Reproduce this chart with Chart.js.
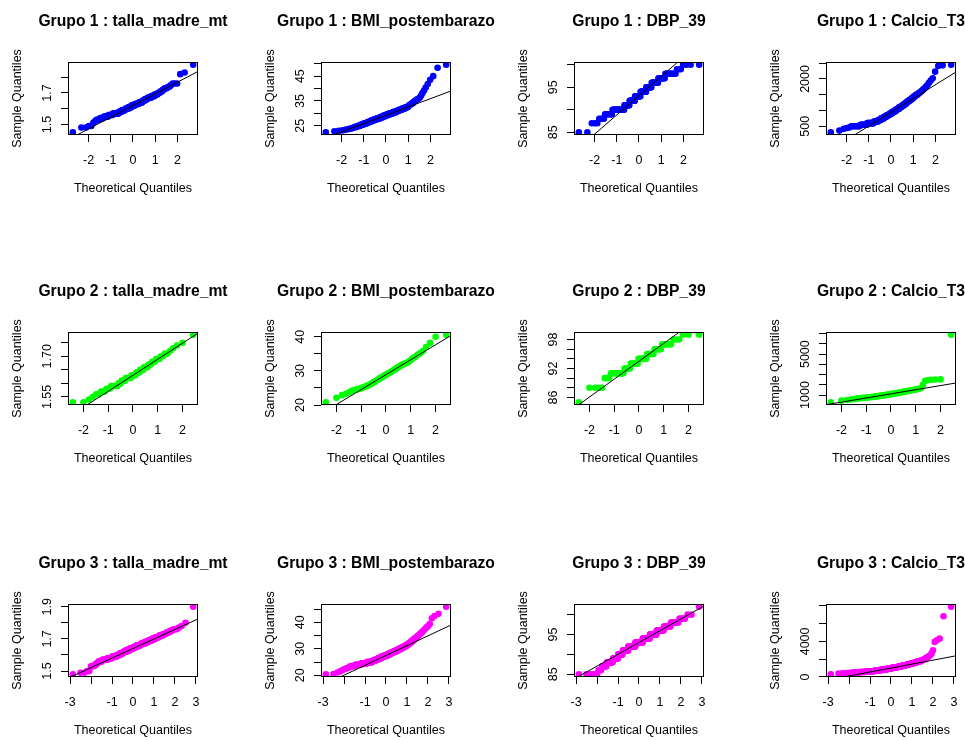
<!DOCTYPE html>
<html lang="es">
<head>
<meta charset="UTF-8">
<title>QQ plots por grupo</title>
<script src="https://cdn.jsdelivr.net/npm/chart.js"></script>
<style>
  body { margin: 0; background: #fff; width: 965px; height: 740px; overflow: hidden; position: relative; }
  canvas { position: absolute; }
</style>
</head>
<body>
<script>
// datos: [valor, repeticiones] o valor suelto (ordenados)
const grupos = ['Grupo 1', 'Grupo 2', 'Grupo 3']
const variables = ['talla_madre_mt', 'BMI_postembarazo', 'DBP_39', 'Calcio_T3']
const colores = ['#0000ff', '#00ff00', '#ff00ff']

const talla1 = [[1.45,1],[1.48,2],[1.49,2],[1.51,1],[1.52,1],[1.53,3],[1.54,4],[1.55,6],[1.56,7],[1.57,12],[1.58,7],[1.59,8],[1.60,9],[1.61,8],[1.62,9],[1.63,10],[1.64,9],[1.65,6],[1.66,6],[1.67,8],[1.68,6],[1.69,5],[1.70,3],[1.71,3],[1.72,2],[1.73,3],[1.74,2],[1.75,1],[1.76,3],[1.82,1],[1.83,1],[1.88,1]]
const bmi1 = [22.4,22.8,23.0,23.1,23.3,23.5,23.6,23.8,23.9,24.0,[24.3,2],[24.6,3],[25.0,4],[25.5,5],[26.0,6],[26.5,6],[27.0,7],[27.5,8],[28.0,8],[28.5,8],[29.0,9],[29.5,8],[30.0,9],[30.5,8],[31.0,7],[31.5,7],[32.0,6],[32.5,5],33.0,33.2,33.4,33.6,33.8,[34.0,2],34.4,34.7,35.0,35.2,35.5,35.8,36.0,36.4,37.2,38.2,39.2,40.4,41.8,43.5,45.0,48.4,49.6]
const dbp1 = [[85,2],[87,3],[88,4],[89,8],[90,21],[91,12],[92,14],[93,15],[94,15],[95,13],[96,14],[97,11],[98,11],[99,3],[100,4]]
const calcio1 = [311,364,420,445,461,[500,7],[550,9],[600,12],[650,9],[700,7],[750,7],[800,7],[850,7],[900,7],[950,7],[1000,6],[1050,6],[1100,6],[1150,5],[1200,5],[1250,4],[1300,4],[1350,4],[1400,3],[1450,3],[1500,3],1535,1555,1572,1596,1620,1650,1678,1712,1755,1810,1880,1950,2020,2230,2410,2430,2450]

const talla2 = [[1.53,2],[1.54,1],[1.55,1],[1.56,2],[1.57,3],[1.58,3],[1.59,6],[1.60,3],[1.61,4],[1.62,6],[1.63,5],[1.64,4],[1.65,4],[1.66,4],[1.67,3],[1.68,3],[1.69,3],[1.70,2],[1.71,2],[1.72,1],[1.73,1],[1.74,1],[1.75,1],[1.78,1]]
const bmi2 = [20.8,22.1,22.9,23.3,23.75,24.2,24.4,24.5,24.6,24.75,24.95,25.1,25.3,25.4,25.6,25.7,25.9,26.1,26.3,26.5,26.7,26.9,27.05,27.25,27.4,27.6,27.8,27.95,28.15,28.3,28.5,28.65,28.8,28.95,29.1,29.3,29.45,29.6,29.75,29.9,30.1,30.3,30.5,30.7,30.9,31.1,31.3,31.5,31.7,31.9,32.0,32.2,32.3,32.5,32.8,33.2,33.6,34.0,34.3,34.8,35.2,35.8,37.0,38.2,40.0,40.6]
const dbp2 = [[85,1],[88,4],[90,3],[91,10],[92,6],[93,8],[94,9],[95,7],[96,6],[97,6],[98,3],[99,3]]
const calcio2 = [290,450,520,575,612,645,673,698,718,737,755,770,785,798,812,825,838,855,870,886,901,917,931,947,962,977,991,1006,1021,1037,1052,1067,1082,1098,1113,1128,1143,1159,1174,1193,1211,1229,1247,1266,1287,1308,1329,1350,1372,1394,1418,1441,1466,1491,1520,1549,1581,1616,1660,2000,2400,2450,2500,2520,2530,6900]

const talla3 = [[1.48,1],[1.49,2],[1.50,2],[1.53,3],[1.54,2],[1.55,2],[1.56,5],[1.57,10],[1.58,12],[1.59,14],[1.60,13],[1.61,12],[1.62,14],[1.63,15],[1.64,17],[1.65,16],[1.66,17],[1.67,16],[1.68,14],[1.69,12],[1.70,10],[1.71,9],[1.72,7],[1.73,5],[1.74,4],[1.75,3],[1.76,3],[1.77,1],[1.78,1],[1.80,1],[1.90,1]]
const bmi3 = [20.4,20.5,21.1,21.5,21.9,22.3,22.5,22.7,22.85,23.0,23.2,[23.5,6],[24.0,11],[24.5,16],[25.0,19],[25.5,12],[26.0,12],[26.5,13],[27.0,15],[27.5,14],[28.0,13],[28.5,13],[29.0,12],[29.5,11],[30.0,10],[30.5,8],[31.0,7],[31.5,6],[32.0,4],[32.5,4],[33.0,3],[33.5,3],[34.0,3],34.4,34.6,34.9,35.1,35.4,35.7,36.0,36.3,36.7,37.1,37.6,38.1,38.6,39.4,41.5,42.4,43.2,45.9]
const dbp3 = [[85,6],[86,3],[87,6],[88,11],[89,13],[90,14],[91,21],[92,31],[93,34],[94,31],[95,25],[96,20],[97,13],[98,9],[99,4],[100,2],[102,1]]
const calcio3 = [300,370,400,420,435,450,460,470,480,487,[505,6],[550,10],[600,12],[650,13],[700,12],[750,11],[800,12],[850,12],[900,12],[950,12],[1000,10],[1050,10],[1100,10],[1150,9],[1200,8],[1250,8],[1300,7],[1350,6],[1400,6],[1450,6],[1510,7],[1600,7],[1700,6],[1800,4],[1900,4],2000,2060,2120,2180,2250,2350,2440,2625,3000,3940,4125,4310,6825,7900]

const series = [talla1, bmi1, dbp1, calcio1, talla2, bmi2, dbp2, calcio2, talla3, bmi3, dbp3, calcio3]

const ticksY = [
  [1.5,1.6,1.7,1.8], [25,30,35,40,45,50], [85,90,95,100], [500,1000,1500,2000,2500],
  [1.55,1.6,1.65,1.7,1.75], [20,25,30,35,40], [86,88,90,92,94,96,98], [1000,2000,3000,4000,5000,6000,7000],
  [1.5,1.6,1.7,1.8,1.9], [20,25,30,35,40,45], [85,90,95,100], [0,2000,4000,6000,8000]
]
const etiquetasY = [
  ['1.5','1.7'], ['25','35','45'], ['85','95'], ['500','2000'],
  ['1.55','1.70'], ['20','30','40'], ['86','92','98'], ['1000','5000'],
  ['1.5','1.7','1.9'], ['20','30','40'], ['85','95'], ['0','4000']
]
const ticksX = [[-2,-1,0,1,2], [-2,-1,0,1,2], [-3,-2,-1,0,1,2,3]]
const etiquetasX = [['-2','-1','0','1','2'], ['-2','-1','0','1','2'], ['-3','','-1','0','1','2','3']]

const familia = '"Liberation Sans", Arial, sans-serif'
const fuente = { family: familia, size: 12.5 }
const colIzq = [0, 253, 506, 758]
const filaSup = [0, 270, 542]

const expandir = a => a.flatMap(e => Array.isArray(e) ? Array(e[1]).fill(e[0]) : [e])

// inversa de la normal (Acklam)
function qnorm(p) {
  const a = [-39.69683028665376, 220.9460984245205, -275.9285104469687, 138.3577518672690, -30.66479806614716, 2.506628277459239]
  const b = [-54.47609879822406, 161.5858368580409, -155.6989798598866, 66.80131188771972, -13.28068155288572]
  const c = [-0.007784894002430293, -0.3223964580411365, -2.400758277161838, -2.549732539343734, 4.374664141464968, 2.938163982698783]
  const d = [0.007784695709041462, 0.3224671290700398, 2.445134137142996, 3.754408661907416]
  const cola = q => (((((c[0]*q+c[1])*q+c[2])*q+c[3])*q+c[4])*q+c[5]) / ((((d[0]*q+d[1])*q+d[2])*q+d[3])*q+1)
  if (p < 0.02425) return cola(Math.sqrt(-2*Math.log(p)))
  if (p > 1 - 0.02425) return -cola(Math.sqrt(-2*Math.log(1-p)))
  const q = p - 0.5, r = q*q
  return (((((a[0]*r+a[1])*r+a[2])*r+a[3])*r+a[4])*r+a[5])*q / (((((b[0]*r+b[1])*r+b[2])*r+b[3])*r+b[4])*r+1)
}
function cuantil(v, p) {
  const h = (v.length - 1) * p, lo = Math.floor(h)
  return v[lo] + (h - lo) * ((v[lo+1] ?? v[lo]) - v[lo])
}
function rango(v) {
  const mn = Math.min(...v), mx = Math.max(...v), e = (mx - mn) * 0.04
  return [mn - e, mx + e]
}

function marco(titulo, etiquetas) {
  return {
    id: 'marco',
    afterDraw(chart) {
      const { ctx, chartArea: a, scales } = chart
      ctx.save()
      ctx.strokeStyle = '#000'
      ctx.lineWidth = 1
      ctx.strokeRect(a.left + 0.5, a.top + 0.5, a.right - a.left - 1, a.bottom - a.top - 1)
      ctx.fillStyle = '#000'
      ctx.textAlign = 'center'
      ctx.font = 'bold 15.7px ' + familia
      ctx.textBaseline = 'alphabetic'
      ctx.fillText(titulo, (a.left + a.right) / 2, 26)
      ctx.font = '12.5px ' + familia
      ctx.textBaseline = 'middle'
      etiquetas.forEach(t => {
        ctx.save()
        ctx.translate(a.left - 20.5, scales.y.getPixelForValue(parseFloat(t)))
        ctx.rotate(-Math.PI / 2)
        ctx.fillText(t, 0, 0)
        ctx.restore()
      })
      ctx.translate(a.left - 50, (a.top + a.bottom) / 2)
      ctx.rotate(-Math.PI / 2)
      ctx.fillText('Sample Quantiles', 0, 0)
      ctx.restore()
    }
  }
}

series.forEach((pares, k) => {
  const g = Math.floor(k / 4), v = k % 4
  const y = expandir(pares)
  const n = y.length
  const x = y.map((_, i) => qnorm((i + 0.5) / n))
  const q1 = cuantil(y, 0.25), q3 = cuantil(y, 0.75)
  const pend = (q3 - q1) / (qnorm(0.75) - qnorm(0.25))
  const corte = q1 - pend * qnorm(0.25)
  const xr = rango(x), yr = rango(y)

  const cv = document.createElement('canvas')
  cv.width = 250
  cv.height = 200
  cv.style.left = colIzq[v] + 'px'
  cv.style.top = filaSup[g] + 'px'
  document.body.appendChild(cv)

  const rejilla = { drawOnChartArea: false, drawTicks: true, tickLength: 7, color: '#000', lineWidth: 1 }

  new Chart(cv, {
    type: 'scatter',
    data: {
      datasets: [
        { data: [{ x: xr[0], y: corte + pend * xr[0] }, { x: xr[1], y: corte + pend * xr[1] }],
          showLine: true, borderColor: '#000', borderWidth: 1, pointRadius: 0 },
        { data: x.map((xi, i) => ({ x: xi, y: y[i] })),
          backgroundColor: colores[g], pointBorderWidth: 0, pointRadius: 3.3 }
      ]
    },
    options: {
      responsive: false,
      animation: false,
      events: [],
      devicePixelRatio: 1,
      layout: { padding: { top: 62, right: 52, left: 0, bottom: 0 } },
      plugins: { legend: { display: false }, tooltip: { enabled: false } },
      scales: {
        x: {
          type: 'linear', min: xr[0], max: xr[1],
          afterBuildTicks: s => { s.ticks = ticksX[g].map(t => ({ value: t })) },
          afterFit: s => { s.height = 65 },
          ticks: { color: '#000', font: fuente, padding: 11, autoSkip: false, maxRotation: 0,
                   callback: (val, i) => etiquetasX[g][i] },
          grid: rejilla,
          border: { display: false },
          title: { display: true, text: 'Theoretical Quantiles', color: '#000', font: fuente, padding: { top: 0, bottom: 4 } }
        },
        y: {
          type: 'linear', min: yr[0], max: yr[1],
          afterBuildTicks: s => { s.ticks = ticksY[k].map(t => ({ value: t })) },
          afterFit: s => { s.width = 68 },
          ticks: { display: false },
          grid: rejilla,
          border: { display: false }
        }
      }
    },
    plugins: [marco(grupos[g] + ' : ' + variables[v], etiquetasY[k])]
  })
})
</script>
</body>
</html>
